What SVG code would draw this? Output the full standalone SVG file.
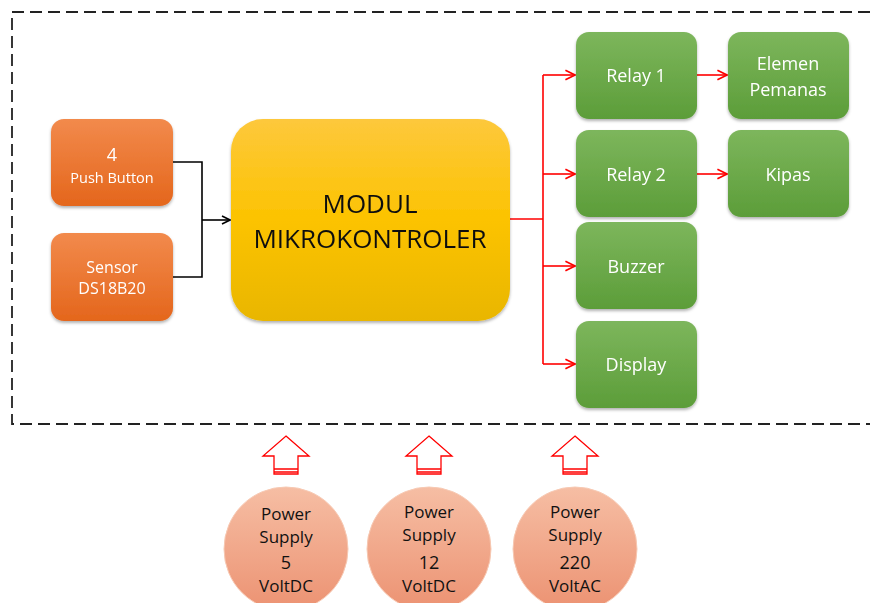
<svg xmlns="http://www.w3.org/2000/svg" width="870" height="603" viewBox="0 0 870 603">
<defs>
<linearGradient id="gOr" x1="0" y1="0" x2="0" y2="1"><stop offset="0" stop-color="#f28a4c"/><stop offset="1" stop-color="#e4661c"/></linearGradient>
<linearGradient id="gYe" x1="0" y1="0" x2="0" y2="1"><stop offset="0" stop-color="#fdc83c"/><stop offset="0.5" stop-color="#fcc300"/><stop offset="1" stop-color="#e9b600"/></linearGradient>
<linearGradient id="gGr" x1="0" y1="0" x2="0" y2="1"><stop offset="0" stop-color="#7db65c"/><stop offset="1" stop-color="#5c9d39"/></linearGradient>
<linearGradient id="gPk" x1="0" y1="0" x2="0" y2="1"><stop offset="0" stop-color="#f6bea4"/><stop offset="1" stop-color="#ec9272"/></linearGradient>
<filter id="sh" x="-10%" y="-10%" width="120%" height="125%"><feDropShadow dx="0" dy="2" stdDeviation="1.5" flood-color="#000" flood-opacity="0.3"/></filter>
<marker id="aBk" viewBox="0 0 10 10" refX="9" refY="5" markerWidth="10" markerHeight="10" markerUnits="userSpaceOnUse" orient="auto"><path d="M1,1 L9,5 L1,9" fill="none" stroke="#000" stroke-width="1.6"/></marker>
<marker id="aRd" viewBox="0 0 10 10" refX="9" refY="5" markerWidth="12" markerHeight="12" markerUnits="userSpaceOnUse" orient="auto"><path d="M1,1 L9,5 L1,9" fill="none" stroke="#ff0000" stroke-width="1.4"/></marker>
</defs>
<style>
.t{font-family:"Open Sans","Liberation Sans",sans-serif;text-anchor:middle;dominant-baseline:central}
.w{fill:#ffffff}
.k{fill:#111111}
.dash{fill:none;stroke:#222;stroke-width:1.8;stroke-dasharray:12,6}
.bk{fill:none;stroke:#000;stroke-width:1.6}
.rd{fill:none;stroke:#ff0000;stroke-width:1.6}
.barr{fill:#fff;stroke:#ff0000;stroke-width:1.3}
</style>
<rect width="870" height="603" fill="#fff"/>
<g id="frame">
<path class="dash" d="M870,12 H12 V424 H870"/>
</g>
<g id="connectors">
<path class="bk" d="M173,162 H202 V277 H173"/>
<path class="bk" d="M202,220 H230" marker-end="url(#aBk)"/>
<path class="rd" d="M510,219 H543"/>
<path class="rd" d="M543,75 V364"/>
<path class="rd" d="M543,75 H575" marker-end="url(#aRd)"/>
<path class="rd" d="M543,174 H575" marker-end="url(#aRd)"/>
<path class="rd" d="M543,266 H575" marker-end="url(#aRd)"/>
<path class="rd" d="M543,364 H575" marker-end="url(#aRd)"/>
<path class="rd" d="M697,75 H727" marker-end="url(#aRd)"/>
<path class="rd" d="M697,174 H727" marker-end="url(#aRd)"/>
</g>
<g id="push-button" filter="url(#sh)">
<rect x="51" y="119" width="122" height="87" rx="13" fill="url(#gOr)"/>
<text class="t w" x="112" y="154" font-size="18">4</text>
<text class="t w" x="112" y="177" font-size="14.5">Push Button</text>
</g>
<g id="sensor" filter="url(#sh)">
<rect x="51" y="233" width="122" height="88" rx="13" fill="url(#gOr)"/>
<text class="t w" x="112" y="267" font-size="16">Sensor</text>
<text class="t w" x="112" y="288" font-size="16">DS18B20</text>
</g>
<g id="mikrokontroler" filter="url(#sh)">
<rect x="231" y="119" width="279" height="202" rx="32" fill="url(#gYe)"/>
<text class="t k" x="370" y="203" font-size="26">MODUL</text>
<text class="t k" x="370" y="238" font-size="26">MIKROKONTROLER</text>
</g>
<g id="relay1" filter="url(#sh)">
<rect x="576" y="32" width="121" height="87" rx="13" fill="url(#gGr)"/>
<text class="t w" x="636" y="75" font-size="18">Relay 1</text>
</g>
<g id="elemen-pemanas" filter="url(#sh)">
<rect x="728" y="32" width="121" height="87" rx="13" fill="url(#gGr)"/>
<text class="t w" x="788" y="63" font-size="18">Elemen</text>
<text class="t w" x="788" y="89" font-size="18">Pemanas</text>
</g>
<g id="relay2" filter="url(#sh)">
<rect x="576" y="130" width="121" height="87" rx="13" fill="url(#gGr)"/>
<text class="t w" x="636" y="174" font-size="18">Relay 2</text>
</g>
<g id="kipas" filter="url(#sh)">
<rect x="728" y="130" width="121" height="87" rx="13" fill="url(#gGr)"/>
<text class="t w" x="788" y="174" font-size="18">Kipas</text>
</g>
<g id="buzzer" filter="url(#sh)">
<rect x="576" y="222" width="121" height="87" rx="13" fill="url(#gGr)"/>
<text class="t w" x="636" y="266" font-size="18">Buzzer</text>
</g>
<g id="display" filter="url(#sh)">
<rect x="576" y="321" width="121" height="87" rx="13" fill="url(#gGr)"/>
<text class="t w" x="636" y="364" font-size="18">Display</text>
</g>
<g id="power-arrows">
<g transform="translate(286,0)">
<polygon class="barr" points="0,436 23,456 12,456 12,474 -12,474 -12,456 -23,456"/>
<path d="M-12,469 H12 M-12,472 H12" stroke="#ff0000" stroke-width="1.3"/>
</g>
<g transform="translate(429,0)">
<polygon class="barr" points="0,436 23,456 12,456 12,474 -12,474 -12,456 -23,456"/>
<path d="M-12,469 H12 M-12,472 H12" stroke="#ff0000" stroke-width="1.3"/>
</g>
<g transform="translate(575,0)">
<polygon class="barr" points="0,436 23,456 12,456 12,474 -12,474 -12,456 -23,456"/>
<path d="M-12,469 H12 M-12,472 H12" stroke="#ff0000" stroke-width="1.3"/>
</g>
</g>
<g id="ps5">
<circle cx="286" cy="549" r="62" fill="url(#gPk)" stroke="#f7c9b3" stroke-width="1"/>
<text class="t k" x="286" y="513" font-size="17">Power</text>
<text class="t k" x="286" y="536" font-size="17">Supply</text>
<text class="t k" x="286" y="562" font-size="18">5</text>
<text class="t k" x="286" y="585" font-size="17">VoltDC</text>
</g>
<g id="ps12">
<circle cx="429" cy="549" r="62" fill="url(#gPk)" stroke="#f7c9b3" stroke-width="1"/>
<text class="t k" x="429" y="511" font-size="17">Power</text>
<text class="t k" x="429" y="534" font-size="17">Supply</text>
<text class="t k" x="429" y="562" font-size="18">12</text>
<text class="t k" x="429" y="585" font-size="17">VoltDC</text>
</g>
<g id="ps220">
<circle cx="575" cy="549" r="62" fill="url(#gPk)" stroke="#f7c9b3" stroke-width="1"/>
<text class="t k" x="575" y="511" font-size="17">Power</text>
<text class="t k" x="575" y="534" font-size="17">Supply</text>
<text class="t k" x="575" y="562" font-size="18">220</text>
<text class="t k" x="575" y="585" font-size="17">VoltAC</text>
</g>
</svg>
